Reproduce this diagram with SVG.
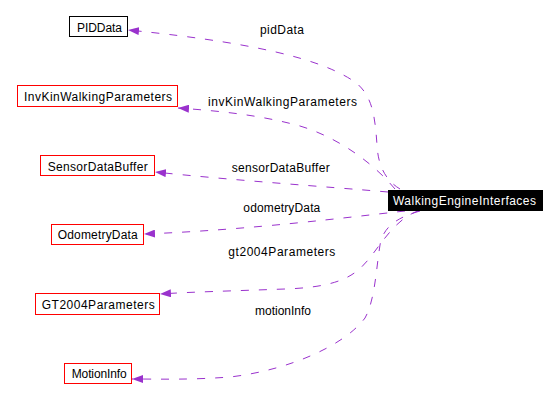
<svg xmlns="http://www.w3.org/2000/svg" width="559" height="404" viewBox="0 0 559 404">
<style>
text{font-family:"Liberation Sans",Arial,sans-serif;font-size:12px;fill:#000}
.box{fill:#fff;stroke:#ff0000;stroke-width:1}
.box.blk{stroke:#000}
.edge{fill:none;stroke:#9a32cd;stroke-width:1;stroke-dasharray:8,10}
</style>
<defs>
<marker id="ah" markerUnits="userSpaceOnUse" viewBox="0 0 11 8" refX="11" refY="4" markerWidth="11" markerHeight="8" orient="auto">
<path d="M0,0 L11,4 L0,8 z" fill="#9a32cd"/>
</marker>
</defs>
<rect width="559" height="404" fill="#fff"/>
<g id="edges">
<path class="edge" marker-end="url(#ah)" d="M400,189 C385,180 378,165 377,145 C375,115 372,95 355,82 C330,65 280,45 128,30"/>
<path class="edge" marker-end="url(#ah)" d="M395,189 C375,165 340,138 300,126 C260,115 220,111 178,108"/>
<path class="edge" marker-end="url(#ah)" d="M388,192 C330,187 230,180 155,172"/>
<path class="edge" marker-end="url(#ah)" d="M405,211 C350,217 250,230 144,234"/>
<path class="edge" marker-end="url(#ah)" d="M418,211 C398,218 385,238 372,255 C358,273 345,287 285,289 C230,291 190,292 160,294"/>
<path class="edge" marker-end="url(#ah)" d="M420,211 C395,218 383,228 380,245 C376,270 375,300 365,318 C345,345 290,370 230,377 C190,380 160,379 132,379"/>
<text x="260" y="34" textLength="44">pidData</text>
<text x="208" y="106" textLength="149">invKinWalkingParameters</text>
<text x="231.7" y="171.5" textLength="98">sensorDataBuffer</text>
<text x="243.3" y="211.5" textLength="77">odometryData</text>
<text x="228.3" y="256" textLength="107">gt2004Parameters</text>
<text x="255" y="315" textLength="56">motionInfo</text>
</g>
<g id="WalkingEngineInterfaces">
<rect x="388" y="190" width="155" height="21" fill="#000"/>
<text x="393" y="205" textLength="143" style="fill:#fff">WalkingEngineInterfaces</text>
</g>
<g id="PIDData">
<rect class="box blk" x="69.5" y="16.5" width="58" height="20"/>
<text x="77" y="32" textLength="45">PIDData</text>
</g>
<g id="InvKinWalkingParameters">
<rect class="box" x="17.5" y="85.5" width="160" height="21"/>
<text x="24" y="101" textLength="148">InvKinWalkingParameters</text>
</g>
<g id="SensorDataBuffer">
<rect class="box" x="40.5" y="155.5" width="114" height="20"/>
<text x="47.7" y="170.5" textLength="100">SensorDataBuffer</text>
</g>
<g id="OdometryData">
<rect class="box" x="51.5" y="224.5" width="92" height="20"/>
<text x="57.7" y="239" textLength="80">OdometryData</text>
</g>
<g id="GT2004Parameters">
<rect class="box" x="35.5" y="293.5" width="124" height="21"/>
<text x="41.7" y="308.5" textLength="113">GT2004Parameters</text>
</g>
<g id="MotionInfo">
<rect class="box" x="64.5" y="363.5" width="67" height="20"/>
<text x="71.7" y="378" textLength="55">MotionInfo</text>
</g>
</svg>
